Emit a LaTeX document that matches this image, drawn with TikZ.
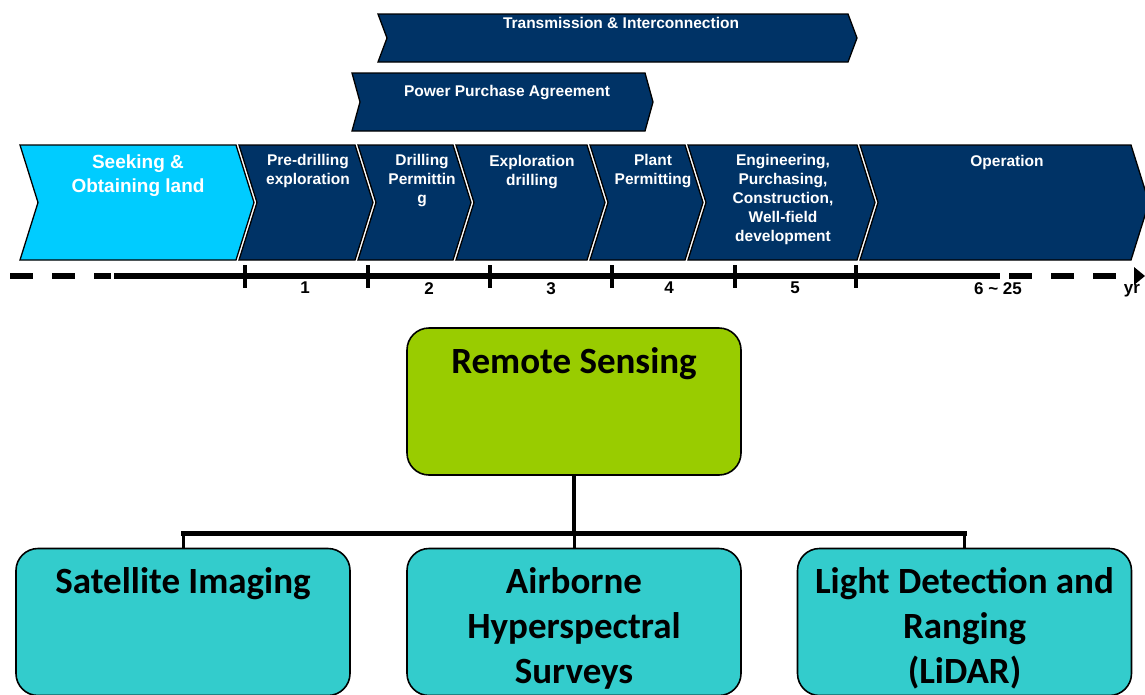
\documentclass[tikz,border=0pt]{standalone}
\usepackage{fontspec}
\setmainfont{Liberation Sans}
\newfontfamily\calfont{Carlito}
\definecolor{navy}{HTML}{003366}
\definecolor{skyc}{HTML}{00CCFF}
\definecolor{limeg}{HTML}{99CC00}
\definecolor{tealc}{HTML}{33CCCC}
\newcommand\chevshape[7]{% left right top bottom depth fill name
  \filldraw[fill=#6, draw=black, line width=1.3pt, line join=miter]
    (#1,#3) -- (#2,#3) -- ({#2+#5},{(#3+#4)/2}) -- (#2,#4) -- (#1,#4)
    -- ({#1+#5},{(#3+#4)/2}) -- cycle;
  \coordinate (#7) at ({(#1+#2+#5)/2},{(#3+#4)/2});}
\begin{document}
\begin{tikzpicture}[x=1pt,y=-1pt,
  ctext/.style={anchor=north, inner sep=0pt, text=white, align=center,
    font=\fontsize{15.5}{19}\selectfont\bfseries},
  axlab/.style={anchor=north, inner sep=0pt, font=\fontsize{17}{20}\selectfont\bfseries},
  rbox/.style={draw=black, line width=1.6pt, rounded corners=22pt,
    minimum width=334pt, inner sep=0pt},
  btext/.style={anchor=north, inner sep=0pt, align=center,
    font=\calfont\fontsize{37}{45}\selectfont\bfseries}]
\useasboundingbox (0,0) rectangle (1145,694);
% top bars
\chevshape{378}{848}{14}{62}{9}{navy}{tr}
\node[ctext] (ttr) at (621,17) {Transmission \& Interconnection};
\chevshape{352}{645}{73}{131}{8}{navy}{ppa}
\node[ctext] (tppa) at (507,85) {Power Purchase Agreement};
% main chevrons
\chevshape{20}{236}{145}{260}{18}{skyc}{c1}
\chevshape{239}{355}{145}{260}{18}{navy}{c2}
\chevshape{358}{453}{145}{260}{18}{navy}{c3}
\chevshape{456}{587}{145}{260}{18}{navy}{c4}
\chevshape{590}{685}{145}{260}{18}{navy}{c5}
\chevshape{688}{857}{145}{260}{18}{navy}{c6}
\chevshape{860}{1131}{145}{260}{18}{navy}{c7}
\node[ctext, font=\fontsize{19}{24}\selectfont\bfseries] (t1) at (138,155) {Seeking \&\\Obtaining land};
\node[ctext] (t2) at (308,154) {Pre-drilling\\exploration};
\node[ctext] (t3) at (422,154) {Drilling\\Permittin\\g};
\node[ctext] (t4) at (532,155) {Exploration\\drilling};
\node[ctext] (t5) at (653,154) {Plant\\Permitting};
\node[ctext] (t6) at (783,154) {Engineering,\\Purchasing,\\Construction,\\Well-field\\development};
\node[ctext] (t7) at (1007,155) {Operation};
% axis
\coordinate (a0) at (10,276);
\coordinate (a0e) at (111,276);
\coordinate (a1) at (114,276);
\coordinate (a2) at (1000,276);
\coordinate (a3) at (1009,276);
\coordinate (a4) at (1120,276);
\draw[line width=6pt, dash pattern=on 23pt off 19pt] (a0) -- (a0e);
\draw[line width=6pt] (a1) -- (a2);
\draw[line width=6pt, dash pattern=on 23pt off 19pt] (a3) -- (a4);
\fill (1134,267) -- (1145,276) -- (1134,285) -- cycle;
\foreach \x in {245,368,490,612,735,856}
  \draw[line width=4pt] (\x,265) -- (\x,288);
\node[axlab] (n1) at (305,282) {1};
\node[axlab] (n2) at (429,282) {2};
\node[axlab] (n3) at (551,282) {3};
\node[axlab] (n4) at (669,282) {4};
\node[axlab] (n5) at (795,282) {5};
\node[axlab] (n6) at (998,282) {6 \textasciitilde{} 25};
\node[axlab] (nyr) at (1132,284) {yr};
% tree
\node[rbox, fill=limeg, minimum height=147pt] (rs) at (574,401.5) {};
\node[btext] (trs) at (574,347) {Remote Sensing};
\node[rbox, fill=tealc, minimum height=147pt] (sat) at (183,622) {};
\node[rbox, fill=tealc, minimum height=147pt] (air) at (574,622) {};
\node[rbox, fill=tealc, minimum height=147pt] (lid) at (964.5,622) {};
\node[btext] (tsat) at (183,567) {Satellite Imaging};
\node[btext] (tair) at (574,567) {Airborne\\Hyperspectral\\Surveys};
\node[btext] (tlid) at (964.5,567) {Light Detection and\\Ranging\\(LiDAR)};
\coordinate (bus) at (574,533);
\draw[line width=4pt] (rs.south) -- (rs.south |- bus);
\draw[line width=5pt, line cap=rect] (sat.north |- bus) -- (lid.north |- bus);
\draw[line width=3pt] (sat.north |- bus) -- (sat.north);
\draw[line width=3pt] (air.north |- bus) -- (air.north);
\draw[line width=3pt] (lid.north |- bus) -- (lid.north);
\end{tikzpicture}
\end{document}
